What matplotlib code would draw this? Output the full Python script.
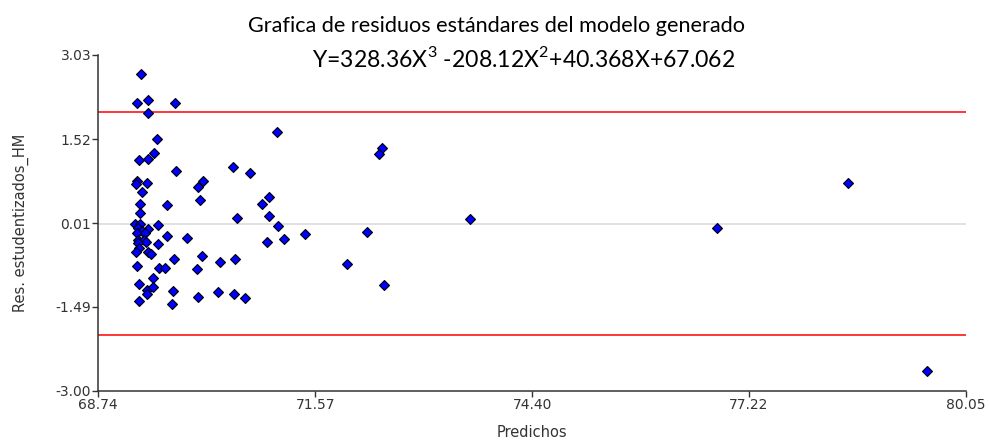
import matplotlib
matplotlib.use("Agg")
import matplotlib.pyplot as plt

# predicted values (x) and studentized residuals (y)
predichos = [69.294, 69.252, 69.391, 69.743, 69.391, 71.068, 69.515, 69.476,
             69.274, 69.395, 69.759, 70.495, 70.720, 69.248, 69.229, 69.375,
             69.311, 70.104, 70.047, 70.065, 69.636, 69.291, 69.291, 70.964,
             70.881, 70.964, 70.551, 71.089, 69.226, 69.291, 69.518, 69.395,
             69.265, 69.309, 69.248, 69.352, 69.636, 69.904, 71.433, 70.938,
             71.163, 69.265, 69.333, 69.362, 69.261, 69.518, 69.268, 69.229,
             69.395, 69.431, 69.733, 70.091, 70.333, 70.529, 69.244, 69.532,
             69.617, 70.026, 69.457, 69.274, 69.375, 69.461, 69.375, 69.721,
             69.274, 69.700, 70.043, 70.307, 70.512, 70.651, 72.444, 72.405,
             73.587, 72.245, 71.980, 72.466, 76.801, 78.512, 79.545]
residuos = [2.680, 2.174, 2.222, 2.174, 1.994, 1.643, 1.519, 1.266,
            1.142, 1.167, 0.943, 1.015, 0.912, 0.774, 0.711, 0.736,
            0.580, 0.763, 0.661, 0.433, 0.334, 0.356, 0.203, 0.482,
            0.356, 0.132, 0.105, -0.039, 0.001, -0.012, -0.021, -0.098,
            -0.080, -0.123, -0.159, -0.159, -0.222, -0.249, -0.174, -0.326,
            -0.278, -0.287, -0.299, -0.321, -0.340, -0.371, -0.430, -0.500,
            -0.514, -0.538, -0.640, -0.577, -0.680, -0.631, -0.757, -0.793,
            -0.784, -0.811, -0.969, -1.080, -1.182, -1.134, -1.263, -1.206,
            -1.380, -1.433, -1.308, -1.229, -1.259, -1.331, 1.366, 1.259,
            0.081, -0.152, -0.726, -1.103, -0.075, 0.733, -2.641]

x_ticks = [68.74, 71.57, 74.40, 77.22, 80.05]
y_ticks = [-3.00, -1.49, 0.01, 1.52, 3.03]
limite = 2.0

plt.rcParams['font.family'] = ['DejaVu Sans']
plt.rcParams['mathtext.fontset'] = 'custom'
plt.rcParams['mathtext.rm'] = 'Lato'

fig = plt.figure(figsize=(9.9, 4.42), dpi=100)
ax = fig.add_axes([0.099, 0.1154, 0.8768, 0.7602])

# reference lines: zero and +/- 2
ax.axhline(0, color="#d9d9d9", lw=1.1, zorder=1)
ax.axhline(limite, color="#ff0000", lw=1.1, zorder=1)
ax.axhline(-limite, color="#ff0000", lw=1.1, zorder=1)

ax.plot(predichos, residuos, "D", color="#0000ff", markeredgecolor="black",
        markeredgewidth=0.8, markersize=5.5, zorder=3, clip_on=False)

ax.set_xlim(x_ticks[0], x_ticks[-1])
ax.set_ylim(y_ticks[0], y_ticks[-1])
ax.set_xticks(x_ticks)
ax.set_yticks(y_ticks)
ax.set_xticklabels([f"{v:.2f}" for v in x_ticks])
ax.set_yticklabels([f"{v:.2f}" for v in y_ticks])

for s in ["top", "right"]:
    ax.spines[s].set_visible(False)
for s in ["left", "bottom"]:
    ax.spines[s].set_color("#333333")
    ax.spines[s].set_linewidth(1.1)

ax.tick_params(direction="out", length=4, width=1, color="#333333",
               labelsize=10, labelcolor="#333333", pad=1)
for lab in ax.get_xticklabels() + ax.get_yticklabels():
    lab.set_family("DejaVu Sans")

ax.set_xlabel("Predichos", fontsize=10.5, color="#333333", family="DejaVu Sans")
ax.set_ylabel("Res. estudentizados_HM", fontsize=10.5, color="#333333",
              family="DejaVu Sans")
ax.xaxis.set_label_coords(0.5, -0.102)
ax.yaxis.set_label_coords(-0.079, 0.5)

fig.text(0.2505, 1 - 32 / 442, "Grafica de residuos estándares del modelo generado",
         ha="left", va="baseline", fontsize=15.6, family="Lato")
fig.text(0.315, 1 - 67 / 442,
         r"Y=328.36X$^\mathregular{3}$ -208.12X$^\mathregular{2}$+40.368X+67.062",
         ha="left", va="baseline", fontsize=16.6, family="Lato")

fig.savefig("out.png", dpi=100)
